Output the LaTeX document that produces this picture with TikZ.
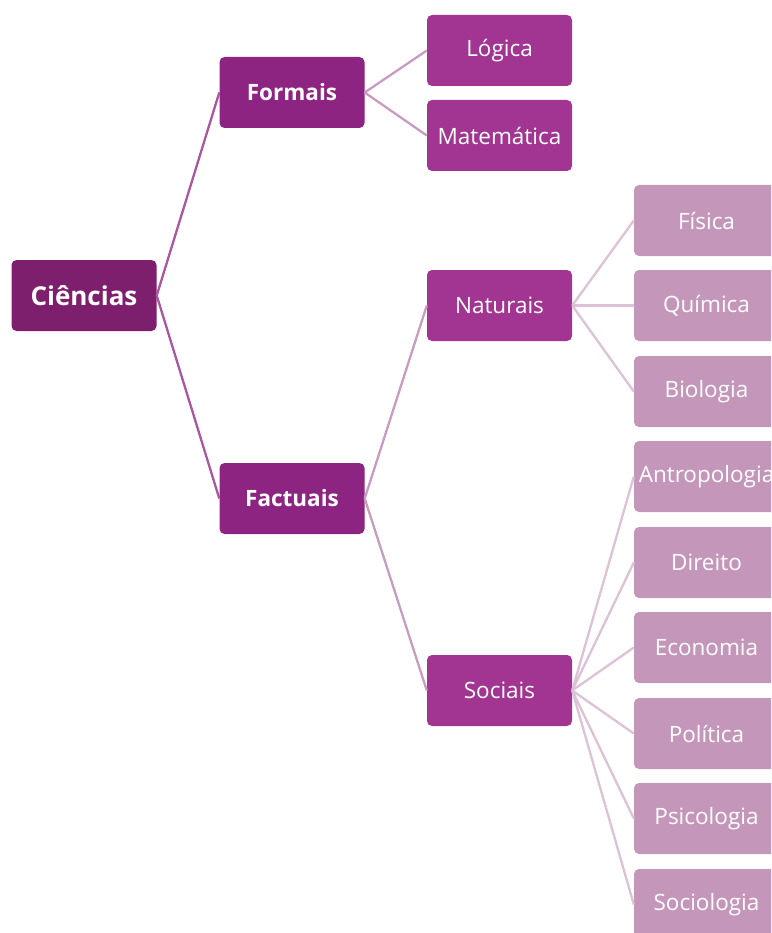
\documentclass[tikz,border=0pt]{standalone}
\usepackage{fontspec}
\setmainfont{Open Sans}
\definecolor{cA}{HTML}{7E1F6E}
\definecolor{cB}{HTML}{8E2481}
\definecolor{cC}{HTML}{A23592}
\definecolor{cD}{HTML}{C497BA}
\definecolor{lA}{HTML}{A9579E}
\definecolor{lB}{HTML}{C89CC1}
\definecolor{lC}{HTML}{DCC2D7}
\tikzset{
  box/.style={rectangle, rounded corners=5pt, minimum width=145pt, minimum height=71pt, inner sep=0pt, text=white, font=\fontsize{22.5}{26}\selectfont},
  lvA/.style={box, fill=cA, font=\fontsize{26}{30}\selectfont\bfseries},
  lvB/.style={box, fill=cB, font=\fontsize{22.5}{26}\selectfont\bfseries},
  lvC/.style={box, fill=cC},
  lvD/.style={box, fill=cD},
  linkA/.style={draw=lA, line width=2.3pt},
  linkB/.style={draw=lB, line width=2.3pt},
  linkC/.style={draw=lC, line width=2.3pt},
}
\begin{document}
\begin{tikzpicture}[x=1pt, y=-1pt]
\useasboundingbox (0,0) rectangle (771,933);
\clip (0,0) rectangle (771,933);
\node[lvA] (cien) at (84,295.5) {Ciências};
\node[lvB] (form) at (292,92.5) {Formais};
\node[lvB] (fact) at (292,498.5) {Factuais};
\node[lvC] (log) at (499.5,50.5) {Lógica};
\node[lvC] (mat) at (499.5,135.5) {Matemática};
\node[lvC] (nat) at (499.5,305.5) {Naturais};
\node[lvC] (soc) at (499.5,690.5) {Sociais};
\node[lvD] (fis) at (706.5,220.5) {Física};
\node[lvD] (qui) at (706.5,305.5) {Química};
\node[lvD] (bio) at (706.5,391.5) {Biologia};
\node[lvD] (ant) at (706.5,476.5) {Antropologia};
\node[lvD] (dir) at (706.5,562.5) {Direito};
\node[lvD] (eco) at (706.5,647.5) {Economia};
\node[lvD] (pol) at (706.5,733.5) {Política};
\node[lvD] (psi) at (706.5,818.5) {Psicologia};
\node[lvD] (sci) at (706.5,904.5) {Sociologia};
\draw[linkA] (cien.east) -- (form.west);
\draw[linkA] (cien.east) -- (fact.west);
\draw[linkB] (form.east) -- (log.west);
\draw[linkB] (form.east) -- (mat.west);
\draw[linkB] (fact.east) -- (nat.west);
\draw[linkB] (fact.east) -- (soc.west);
\foreach \t in {fis,qui,bio} \draw[linkC] (nat.east) -- (\t.west);
\foreach \t in {ant,dir,eco,pol,psi,sci} \draw[linkC] (soc.east) -- (\t.west);
\end{tikzpicture}
\end{document}
